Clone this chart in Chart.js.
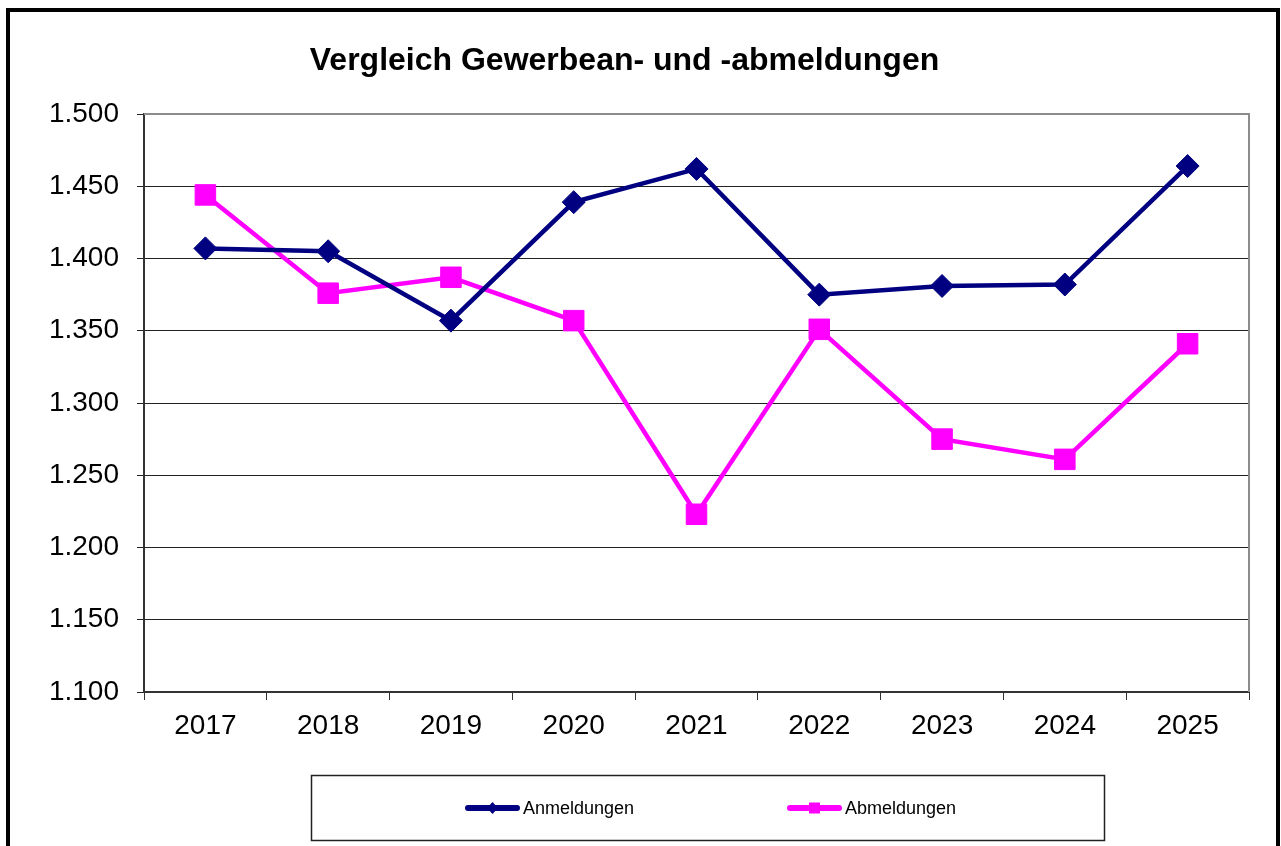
<!DOCTYPE html>
<html>
<head>
<meta charset="utf-8">
<title>Vergleich Gewerbean- und -abmeldungen</title>
<script src="https://cdn.jsdelivr.net/npm/chart.js@4.4.1/dist/chart.umd.min.js"></script>
<style>
  html, body { margin: 0; padding: 0; background: #ffffff; }
  canvas { display: block; }
</style>
</head>
<body>
<canvas id="gewerbeChart" width="1281" height="846"></canvas>
<script>
const years = ['2017', '2018', '2019', '2020', '2021', '2022', '2023', '2024', '2025'];
const anmeldungen = [1407, 1405, 1357, 1439, 1462, 1375, 1381, 1382, 1464];
const abmeldungen = [1444, 1376, 1387, 1357, 1223, 1351, 1275, 1261, 1341];
const yTicks = [1100, 1150, 1200, 1250, 1300, 1350, 1400, 1450, 1500];

const FONT = "'Liberation Sans', Arial, sans-serif";

// 1500 -> "1.500"
function deNumber(v) {
    const s = String(Math.round(v));
    return s.length > 3 ? s.slice(0, -3) + '.' + s.slice(-3) : s;
}

// outer frame, plot frame (top/right) and the boxed legend
const frames = {
    id: 'frames',
    beforeDatasetsDraw(chart) {
        const { ctx, chartArea: a } = chart;
        ctx.save();
        ctx.strokeStyle = '#8c8c8c';
        ctx.lineWidth = 2;
        ctx.beginPath();
        ctx.moveTo(a.left, a.top);
        ctx.lineTo(a.right, a.top);
        ctx.lineTo(a.right, a.bottom);
        ctx.stroke();
        ctx.restore();
    },
    afterDraw(chart) {
        const ctx = chart.ctx;
        ctx.save();
        ctx.strokeStyle = '#000';
        ctx.lineWidth = 4;
        ctx.strokeRect(8, 10, 1270, 900);

        // legend box
        ctx.lineWidth = 1.5;
        ctx.strokeStyle = '#222';
        ctx.strokeRect(311.5, 775.5, 793, 65);

        const starts = [465, 787];
        const y = 808;
        chart.data.datasets.forEach((ds, i) => {
            const x = starts[i];
            ctx.strokeStyle = ds.borderColor;
            ctx.lineWidth = 6;
            ctx.lineCap = 'round';
            ctx.beginPath();
            ctx.moveTo(x + 3, y);
            ctx.lineTo(x + 52, y);
            ctx.stroke();
            ctx.fillStyle = ds.borderColor;
            const cx = x + 27.5;
            if (ds.pointStyle === 'rectRot') {
                ctx.beginPath();
                ctx.moveTo(cx - 5.5, y);
                ctx.lineTo(cx, y - 6);
                ctx.lineTo(cx + 5.5, y);
                ctx.lineTo(cx, y + 6);
                ctx.closePath();
                ctx.fill();
            } else {
                ctx.fillRect(cx - 5.5, y - 5.5, 11, 11);
            }
            ctx.fillStyle = '#000';
            ctx.font = '18px ' + FONT;
            ctx.textBaseline = 'middle';
            ctx.textAlign = 'left';
            ctx.fillText(ds.label, x + 58, y + 1);
        });
        ctx.restore();
    }
};

const ctx = document.getElementById('gewerbeChart').getContext('2d');
new Chart(ctx, {
    type: 'line',
    data: {
        labels: years,
        datasets: [{
            label: 'Anmeldungen',
            data: anmeldungen,
            borderColor: '#000080',
            backgroundColor: '#000080',
            borderWidth: 4.5,
            tension: 0,
            pointStyle: 'rectRot',
            pointRadius: 11.5,
            pointBorderWidth: 1,
            pointBackgroundColor: '#000080',
            pointBorderColor: '#000080'
        }, {
            label: 'Abmeldungen',
            data: abmeldungen,
            borderColor: '#ff00ff',
            backgroundColor: '#ff00ff',
            borderWidth: 4.5,
            tension: 0,
            pointStyle: 'rect',
            pointRadius: 14.5,
            pointBorderWidth: 1,
            pointBackgroundColor: '#ff00ff',
            pointBorderColor: '#ff00ff'
        }]
    },
    options: {
        responsive: false,
        animation: false,
        devicePixelRatio: 1,
        layout: {
            padding: { left: 0, right: 32, top: 0, bottom: 104 }
        },
        plugins: {
            legend: { display: false },
            tooltip: { enabled: false },
            title: {
                display: true,
                text: 'Vergleich Gewerbean- und -abmeldungen',
                color: '#000',
                font: { family: FONT, size: 32, weight: 'bold' },
                padding: { top: 42, bottom: 33.6 }
            }
        },
        scales: {
            x: {
                offset: true,
                ticks: {
                    color: '#000',
                    padding: 9,
                    maxRotation: 0,
                    font: { family: FONT, size: 28 }
                },
                grid: {
                    display: true,
                    drawOnChartArea: false,
                    drawTicks: true,
                    tickLength: 8,
                    offset: true,
                    color: '#333'
                },
                border: { display: true, color: '#333', width: 2 },
                afterFit(scale) { scale.height = 50; }
            },
            y: {
                min: 1100,
                max: 1500,
                afterBuildTicks(scale) {
                    scale.ticks = yTicks.map(v => ({ value: v }));
                },
                ticks: {
                    color: '#000',
                    padding: 18,
                    font: { family: FONT, size: 28 },
                    callback: v => deNumber(v)
                },
                grid: {
                    color: '#222',
                    lineWidth: 1,
                    tickLength: 7
                },
                border: { display: true, color: '#333', width: 2 },
                afterFit(scale) { scale.width = 144; }
            }
        }
    },
    plugins: [frames]
});
</script>
</body>
</html>
